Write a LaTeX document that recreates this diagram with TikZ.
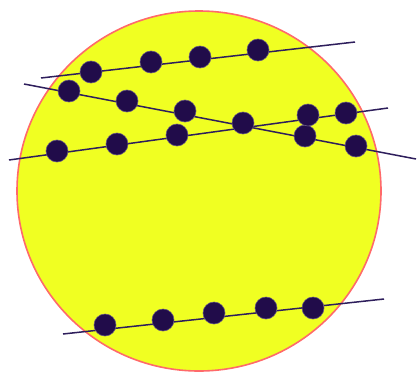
\documentclass[tikz,border=0pt]{standalone}
\usetikzlibrary{shapes.geometric}
\definecolor{ballfill}{HTML}{F0FF22}
\definecolor{ballrim}{HTML}{FF6A6A}
\definecolor{beadc}{HTML}{210C4A}
\definecolor{strandc}{HTML}{2E1E5C}
\begin{document}
\begin{tikzpicture}[x=1pt,y=-1pt,
  bead/.style={circle,fill=beadc,draw=beadc!70!white,line width=0.6pt,minimum size=22pt,inner sep=0pt},
  strand/.style={draw=strandc,line width=1.5pt}]
\useasboundingbox (0,0) rectangle (417,372);
\fill[white] (0,0) rectangle (417,372);
\node[ellipse,draw=ballrim,fill=ballfill,line width=1.6pt,minimum width=364pt,minimum height=360pt,inner sep=0pt] (cell) at (199,191) {};
% strand ends
\coordinate (s1a) at (41,78);  \coordinate (s1b) at (355,42);
\coordinate (s2a) at (24,84);  \coordinate (s2b) at (416,159);
\coordinate (s3a) at (9,160);  \coordinate (s3b) at (388,108);
\coordinate (s4a) at (63,334); \coordinate (s4b) at (384,299);
\draw[strand] (s1a) -- (s1b);
\draw[strand] (s2a) -- (s2b);
\draw[strand] (s3a) -- (s3b);
\draw[strand] (s4a) -- (s4b);
% strand 1
\node[bead] (a1) at (91,72) {};
\node[bead] (a2) at (151,62) {};
\node[bead] (a3) at (200,57) {};
\node[bead] (a4) at (258,50) {};
% strand 2
\node[bead] (b1) at (69,91) {};
\node[bead] (b2) at (127,101) {};
\node[bead] (b3) at (185,111) {};
\node[bead] (x) at (243,123) {};
\node[bead] (b5) at (305,136) {};
\node[bead] (b6) at (356,146) {};
% strand 3
\node[bead] (c1) at (57,151) {};
\node[bead] (c2) at (117,144) {};
\node[bead] (c3) at (177,135) {};
\node[bead] (c5) at (308,115) {};
\node[bead] (c6) at (346,113) {};
% strand 4
\node[bead] (d1) at (105,325) {};
\node[bead] (d2) at (163,320) {};
\node[bead] (d3) at (214,313) {};
\node[bead] (d4) at (266,308) {};
\node[bead] (d5) at (313,308) {};
\end{tikzpicture}
\end{document}
